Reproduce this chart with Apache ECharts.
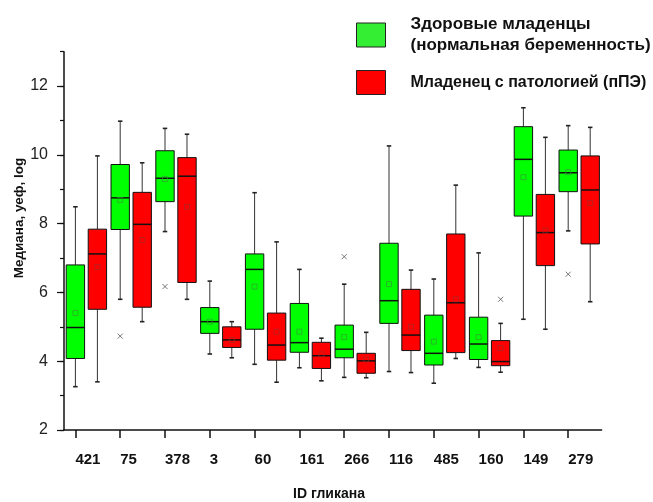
<!DOCTYPE html>
<html>
<head>
<meta charset="utf-8">
<script src="https://cdn.jsdelivr.net/npm/echarts@6/dist/echarts.min.js"></script>
<style>html,body{margin:0;padding:0;background:#fff}#c{width:653px;height:502px}</style>
</head>
<body>
<div id="c"></div>
<script>
// ---- data ----
const categories = ['421','75','378','3','60','161','266','116','485','160','149','279'];
const seriesNames = ['Здоровые младенцы', 'Младенец с патологией (пПЭ)'];
// [min, Q1, median, Q3, max]
const healthyBoxes = [
  [3.26, 4.08, 4.98, 6.80, 8.49],
  [5.80, 7.83, 8.75, 9.72, 10.98],
  [7.77, 8.64, 9.32, 10.12, 10.77],
  [4.21, 4.81, 5.15, 5.56, 6.33],
  [3.91, 4.93, 6.67, 7.12, 8.90],
  [3.81, 4.26, 4.54, 5.68, 6.67],
  [3.53, 4.10, 4.35, 5.05, 6.24],
  [3.70, 5.10, 5.76, 7.43, 10.26],
  [3.36, 3.89, 4.23, 5.34, 6.39],
  [3.82, 4.05, 4.50, 5.28, 7.15],
  [5.22, 8.22, 9.87, 10.82, 11.37],
  [7.79, 8.93, 9.48, 10.14, 10.85]
];
const pathologyBoxes = [
  [3.40, 5.51, 7.12, 7.84, 9.97],
  [5.15, 5.57, 7.98, 8.91, 9.77],
  [5.80, 6.29, 9.38, 9.92, 10.60],
  [4.10, 4.40, 4.62, 5.00, 5.15],
  [3.39, 4.03, 4.47, 5.40, 7.47],
  [3.43, 3.79, 4.16, 4.55, 4.67],
  [3.52, 3.65, 4.01, 4.23, 4.84],
  [3.67, 4.31, 4.76, 6.09, 6.65],
  [4.08, 4.25, 5.70, 7.70, 9.12],
  [3.68, 3.87, 3.99, 4.60, 5.10],
  [4.93, 6.78, 7.74, 8.85, 10.51],
  [5.73, 7.41, 8.98, 9.97, 10.80]
];
const healthyMeans = [5.40, 8.69, 9.30, 5.15, 6.17, 4.86, 4.70, 6.24, 4.57, 4.70, 9.35, 9.50];
const pathologyMeans = [6.74, 7.52, 8.49, 4.62, 4.86, 4.20, 4.05, 5.00, 5.80, 4.38, 7.80, 8.60];
// outliers: [category index, value]
const healthyOutliers = [[1, 4.73], [2, 6.17], [6, 7.04], [11, 6.53]];
const pathologyOutliers = [[9, 5.80]];
const yTicks = { min: 2, max: 13 };

// ---- style ----
const GREEN = '#00ff00', RED = '#ff0000';
const SHIFT = 0.2455;      // fraction of band width
const FONT = 'Liberation Sans, Arial, sans-serif';

function boxRenderer(fill, shift) {
  return function (params, api) {
    const idx = api.value(0);
    const band = api.size([1, 0])[0];
    const cx = api.coord([idx, api.value(3)])[0] + shift * band;
    const y = k => api.coord([idx, api.value(k)])[1];
    const yMin = y(1), yQ1 = y(2), yMed = y(3), yQ3 = y(4), yMax = y(5);
    const hw = band * 0.205;
    const cap = band * 0.05;
    const ls = { stroke: '#333', lineWidth: 1 };
    const cs = { stroke: '#222', lineWidth: 1.6 };
    return {
      type: 'group',
      children: [
        { type: 'line', shape: { x1: cx, y1: yMax, x2: cx, y2: yQ3 }, style: ls },
        { type: 'line', shape: { x1: cx, y1: yQ1, x2: cx, y2: yMin }, style: ls },
        { type: 'line', shape: { x1: cx - cap, y1: yMax, x2: cx + cap, y2: yMax }, style: cs },
        { type: 'line', shape: { x1: cx - cap, y1: yMin, x2: cx + cap, y2: yMin }, style: cs },
        { type: 'rect', shape: { x: cx - hw, y: yQ3, width: 2 * hw, height: yQ1 - yQ3 },
          style: { fill: fill, stroke: '#111', lineWidth: 1 } },
        { type: 'line', shape: { x1: cx - hw, y1: yMed, x2: cx + hw, y2: yMed },
          style: { stroke: '#111', lineWidth: 1.5 } }
      ]
    };
  };
}

const toData = boxes => boxes.map((b, i) => [i].concat(b));
const toMeans = arr => arr.map((v, i) => [i, v]);
const X_PATH = 'path://M0,0L10,10M10,0L0,10';

const chart = echarts.init(document.getElementById('c'), null, { renderer: 'canvas' });
chart.setOption({
  backgroundColor: '#ffffff',
  animation: false,
  textStyle: { fontFamily: FONT },
  grid: [
    { left: 64, right: 51.4, top: 51.7, bottom: 72 },
    { left: 53, right: 62.4, top: 51.7, bottom: 72 }
  ],
  legend: {
    orient: 'vertical',
    left: 356,
    top: 14,
    padding: 0,
    itemWidth: 29,
    itemHeight: 24,
    itemGap: 14,
    selectedMode: false,
    data: [
      { name: seriesNames[0], icon: 'rect', itemStyle: { color: '#33ee33', borderColor: '#222', borderWidth: 1 } },
      { name: seriesNames[1], icon: 'rect', itemStyle: { color: RED, borderColor: '#222', borderWidth: 1 } }
    ],
    formatter: function (name) {
      return name === seriesNames[0]
        ? '{a|Здоровые младенцы}\n{a|(нормальная беременность)}'
        : '{b|' + name + '}';
    },
    textStyle: {
      fontFamily: FONT, fontSize: 17, fontWeight: 'bold', color: '#111', lineHeight: 21, padding: [0, 0, 0, 20],
      rich: {
        a: { fontFamily: FONT, fontSize: 17, fontWeight: 'bold', color: '#111', lineHeight: 21 },
        b: { fontFamily: FONT, fontSize: 16, fontWeight: 'bold', color: '#111', lineHeight: 21 }
      }
    }
  },
  xAxis: [
    {
      gridIndex: 0, type: 'category', data: categories, boundaryGap: true,
      axisLine: { lineStyle: { color: '#111', width: 1.5 } },
      axisTick: { show: false }, axisLabel: { show: false }, splitLine: { show: false }
    },
    {
      gridIndex: 1, type: 'category', data: categories, boundaryGap: true,
      axisLine: { show: false },
      axisTick: { show: true, alignWithLabel: true, interval: 0, length: 8, lineStyle: { color: '#111', width: 1.5 } },
      axisLabel: { interval: 0, align: 'left', margin: 22, fontFamily: FONT, fontSize: 15, fontWeight: 'bold', color: '#111' },
      splitLine: { show: false }
    }
  ],
  yAxis: [
    {
      gridIndex: 0, type: 'value', min: yTicks.min, max: yTicks.max, interval: 1,
      axisLine: { show: true, lineStyle: { color: '#111', width: 1.5 } },
      axisTick: { show: true, length: 4, lineStyle: { color: '#111', width: 1.2 } },
      axisLabel: { show: false }, splitLine: { show: false }
    },
    {
      gridIndex: 0, type: 'value', position: 'left', offset: 0, min: yTicks.min, max: yTicks.max, interval: 2,
      axisLine: { show: false },
      axisTick: { show: true, length: 7, lineStyle: { color: '#111', width: 1.2 } },
      axisLabel: { margin: 16, showMaxLabel: false, fontFamily: FONT, fontSize: 16, color: '#222' },
      splitLine: { show: false }
    },
    { gridIndex: 1, type: 'value', min: yTicks.min, max: yTicks.max, show: false }
  ],
  graphic: [
    { type: 'text', x: 19.5, y: 218, rotation: Math.PI / 2,
      style: { text: 'Медиана, уеф, log', font: 'bold 13.5px ' + FONT, fill: '#111', align: 'center', verticalAlign: 'middle' } },
    { type: 'text', x: 329, y: 494,
      style: { text: 'ID гликана', font: 'bold 14px ' + FONT, fill: '#111', align: 'center', verticalAlign: 'middle' } }
  ],
  series: [
    {
      name: seriesNames[0], type: 'custom', xAxisIndex: 0, yAxisIndex: 0,
      itemStyle: { color: GREEN },
      renderItem: boxRenderer(GREEN, -SHIFT),
      encode: { x: 0, y: [1, 2, 3, 4, 5] },
      data: toData(healthyBoxes), z: 2
    },
    {
      name: seriesNames[1], type: 'custom', xAxisIndex: 0, yAxisIndex: 0,
      itemStyle: { color: RED },
      renderItem: boxRenderer(RED, SHIFT),
      encode: { x: 0, y: [1, 2, 3, 4, 5] },
      data: toData(pathologyBoxes), z: 2
    },
    {
      name: 'mean-h', type: 'scatter', xAxisIndex: 0, yAxisIndex: 0, z: 3,
      symbol: 'rect', symbolSize: 5, symbolOffset: [-11, 0],
      itemStyle: { color: 'rgba(0,0,0,0)', borderColor: '#3c8f3c', borderWidth: 0.8 },
      data: toMeans(healthyMeans)
    },
    {
      name: 'mean-p', type: 'scatter', xAxisIndex: 0, yAxisIndex: 0, z: 3,
      symbol: 'rect', symbolSize: 5, symbolOffset: [11, 0],
      itemStyle: { color: 'rgba(0,0,0,0)', borderColor: '#9a3030', borderWidth: 0.8 },
      data: toMeans(pathologyMeans)
    },
    {
      name: 'out-h', type: 'scatter', xAxisIndex: 0, yAxisIndex: 0, z: 3,
      symbol: X_PATH, symbolSize: 5, symbolOffset: [-11, 0],
      itemStyle: { color: 'none', borderColor: '#555', borderWidth: 1 },
      data: healthyOutliers
    },
    {
      name: 'out-p', type: 'scatter', xAxisIndex: 0, yAxisIndex: 0, z: 3,
      symbol: X_PATH, symbolSize: 5, symbolOffset: [11, 0],
      itemStyle: { color: 'none', borderColor: '#555', borderWidth: 1 },
      data: pathologyOutliers
    }
  ]
});
</script>
</body>
</html>
